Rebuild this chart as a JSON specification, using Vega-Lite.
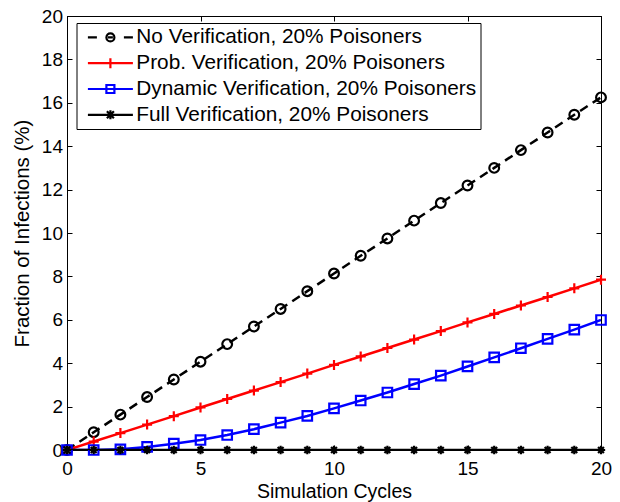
{
  "$schema": "https://vega.github.io/schema/vega-lite/v6.json",
  "width": 534,
  "height": 434,
  "autosize": {"type": "none"},
  "padding": {"left": 67, "top": 16, "right": 19, "bottom": 52},
  "background": "white",
  "config": {
    "view": {"stroke": "black", "strokeWidth": 1},
    "font": "Liberation Sans",
    "axis": {
      "grid": false,
      "domainColor": "black",
      "tickColor": "black",
      "labelColor": "black",
      "titleColor": "black",
      "labelFont": "Liberation Sans",
      "titleFont": "Liberation Sans",
      "labelFontSize": 19,
      "titleFontSize": 19.5,
      "titleFontWeight": "normal",
      "tickSize": -5,
      "labelOverlap": false,
      "labelFlush": false
    },
    "legend": {
      "labelFont": "Liberation Sans",
      "labelFontSize": 20.8,
      "labelColor": "black",
      "labelLimit": 500,
      "strokeColor": "black",
      "fillColor": "white",
      "padding": 4,
      "symbolStrokeWidth": 2.2,
      "symbolSize": 100,
      "symbolOpacity": 1,
      "rowPadding": 3.8
    }
  },
  "data": {
    "values": [
      {"series": "No Verification, 20% Poisoners", "x": 0, "y": 0},
      {"series": "No Verification, 20% Poisoners", "x": 1, "y": 0.82},
      {"series": "No Verification, 20% Poisoners", "x": 2, "y": 1.63},
      {"series": "No Verification, 20% Poisoners", "x": 3, "y": 2.44},
      {"series": "No Verification, 20% Poisoners", "x": 4, "y": 3.25},
      {"series": "No Verification, 20% Poisoners", "x": 5, "y": 4.07},
      {"series": "No Verification, 20% Poisoners", "x": 6, "y": 4.88},
      {"series": "No Verification, 20% Poisoners", "x": 7, "y": 5.69},
      {"series": "No Verification, 20% Poisoners", "x": 8, "y": 6.5},
      {"series": "No Verification, 20% Poisoners", "x": 9, "y": 7.32},
      {"series": "No Verification, 20% Poisoners", "x": 10, "y": 8.13},
      {"series": "No Verification, 20% Poisoners", "x": 11, "y": 8.95},
      {"series": "No Verification, 20% Poisoners", "x": 12, "y": 9.75},
      {"series": "No Verification, 20% Poisoners", "x": 13, "y": 10.57},
      {"series": "No Verification, 20% Poisoners", "x": 14, "y": 11.38},
      {"series": "No Verification, 20% Poisoners", "x": 15, "y": 12.19},
      {"series": "No Verification, 20% Poisoners", "x": 16, "y": 13.0},
      {"series": "No Verification, 20% Poisoners", "x": 17, "y": 13.82},
      {"series": "No Verification, 20% Poisoners", "x": 18, "y": 14.63},
      {"series": "No Verification, 20% Poisoners", "x": 19, "y": 15.45},
      {"series": "No Verification, 20% Poisoners", "x": 20, "y": 16.25},
      {"series": "Prob. Verification, 20% Poisoners", "x": 0, "y": 0},
      {"series": "Prob. Verification, 20% Poisoners", "x": 1, "y": 0.39},
      {"series": "Prob. Verification, 20% Poisoners", "x": 2, "y": 0.78},
      {"series": "Prob. Verification, 20% Poisoners", "x": 3, "y": 1.17},
      {"series": "Prob. Verification, 20% Poisoners", "x": 4, "y": 1.56},
      {"series": "Prob. Verification, 20% Poisoners", "x": 5, "y": 1.96},
      {"series": "Prob. Verification, 20% Poisoners", "x": 6, "y": 2.35},
      {"series": "Prob. Verification, 20% Poisoners", "x": 7, "y": 2.74},
      {"series": "Prob. Verification, 20% Poisoners", "x": 8, "y": 3.13},
      {"series": "Prob. Verification, 20% Poisoners", "x": 9, "y": 3.52},
      {"series": "Prob. Verification, 20% Poisoners", "x": 10, "y": 3.92},
      {"series": "Prob. Verification, 20% Poisoners", "x": 11, "y": 4.31},
      {"series": "Prob. Verification, 20% Poisoners", "x": 12, "y": 4.7},
      {"series": "Prob. Verification, 20% Poisoners", "x": 13, "y": 5.09},
      {"series": "Prob. Verification, 20% Poisoners", "x": 14, "y": 5.48},
      {"series": "Prob. Verification, 20% Poisoners", "x": 15, "y": 5.88},
      {"series": "Prob. Verification, 20% Poisoners", "x": 16, "y": 6.27},
      {"series": "Prob. Verification, 20% Poisoners", "x": 17, "y": 6.66},
      {"series": "Prob. Verification, 20% Poisoners", "x": 18, "y": 7.05},
      {"series": "Prob. Verification, 20% Poisoners", "x": 19, "y": 7.45},
      {"series": "Prob. Verification, 20% Poisoners", "x": 20, "y": 7.85},
      {"series": "Dynamic Verification, 20% Poisoners", "x": 0, "y": 0},
      {"series": "Dynamic Verification, 20% Poisoners", "x": 1, "y": 0.0},
      {"series": "Dynamic Verification, 20% Poisoners", "x": 2, "y": 0.03},
      {"series": "Dynamic Verification, 20% Poisoners", "x": 3, "y": 0.14},
      {"series": "Dynamic Verification, 20% Poisoners", "x": 4, "y": 0.29},
      {"series": "Dynamic Verification, 20% Poisoners", "x": 5, "y": 0.46},
      {"series": "Dynamic Verification, 20% Poisoners", "x": 6, "y": 0.69},
      {"series": "Dynamic Verification, 20% Poisoners", "x": 7, "y": 0.96},
      {"series": "Dynamic Verification, 20% Poisoners", "x": 8, "y": 1.26},
      {"series": "Dynamic Verification, 20% Poisoners", "x": 9, "y": 1.57},
      {"series": "Dynamic Verification, 20% Poisoners", "x": 10, "y": 1.92},
      {"series": "Dynamic Verification, 20% Poisoners", "x": 11, "y": 2.28},
      {"series": "Dynamic Verification, 20% Poisoners", "x": 12, "y": 2.65},
      {"series": "Dynamic Verification, 20% Poisoners", "x": 13, "y": 3.04},
      {"series": "Dynamic Verification, 20% Poisoners", "x": 14, "y": 3.43},
      {"series": "Dynamic Verification, 20% Poisoners", "x": 15, "y": 3.85},
      {"series": "Dynamic Verification, 20% Poisoners", "x": 16, "y": 4.27},
      {"series": "Dynamic Verification, 20% Poisoners", "x": 17, "y": 4.69},
      {"series": "Dynamic Verification, 20% Poisoners", "x": 18, "y": 5.12},
      {"series": "Dynamic Verification, 20% Poisoners", "x": 19, "y": 5.55},
      {"series": "Dynamic Verification, 20% Poisoners", "x": 20, "y": 5.99},
      {"series": "Full Verification, 20% Poisoners", "x": 0, "y": 0},
      {"series": "Full Verification, 20% Poisoners", "x": 1, "y": 0},
      {"series": "Full Verification, 20% Poisoners", "x": 2, "y": 0},
      {"series": "Full Verification, 20% Poisoners", "x": 3, "y": 0},
      {"series": "Full Verification, 20% Poisoners", "x": 4, "y": 0},
      {"series": "Full Verification, 20% Poisoners", "x": 5, "y": 0},
      {"series": "Full Verification, 20% Poisoners", "x": 6, "y": 0},
      {"series": "Full Verification, 20% Poisoners", "x": 7, "y": 0},
      {"series": "Full Verification, 20% Poisoners", "x": 8, "y": 0},
      {"series": "Full Verification, 20% Poisoners", "x": 9, "y": 0},
      {"series": "Full Verification, 20% Poisoners", "x": 10, "y": 0},
      {"series": "Full Verification, 20% Poisoners", "x": 11, "y": 0},
      {"series": "Full Verification, 20% Poisoners", "x": 12, "y": 0},
      {"series": "Full Verification, 20% Poisoners", "x": 13, "y": 0},
      {"series": "Full Verification, 20% Poisoners", "x": 14, "y": 0},
      {"series": "Full Verification, 20% Poisoners", "x": 15, "y": 0},
      {"series": "Full Verification, 20% Poisoners", "x": 16, "y": 0},
      {"series": "Full Verification, 20% Poisoners", "x": 17, "y": 0},
      {"series": "Full Verification, 20% Poisoners", "x": 18, "y": 0},
      {"series": "Full Verification, 20% Poisoners", "x": 19, "y": 0},
      {"series": "Full Verification, 20% Poisoners", "x": 20, "y": 0}
    ]
  },
  "layer": [
    {
      "transform": [{"filter": "datum.series === 'No Verification, 20% Poisoners'"}],
      "mark": {"type": "line", "strokeWidth": 2.5, "color": "#000000", "strokeDash": [9, 6], "clip": true},
      "encoding": {
        "x": {"field": "x", "type": "quantitative", "scale": {"domain": [0, 20], "nice": false},
          "axis": {"orient": "bottom", "title": "Simulation Cycles", "values": [0, 5, 10, 15, 20], "labelPadding": 14, "titlePadding": 4}},
        "y": {"field": "y", "type": "quantitative", "scale": {"domain": [0, 20], "nice": false},
          "axis": {"orient": "left", "title": "Fraction of Infections (%)", "titleFontSize": 20.5, "values": [0, 2, 4, 6, 8, 10, 12, 14, 16, 18, 20], "labelPadding": 9.5, "titlePadding": 9}}
      }
    },
    {
      "transform": [{"filter": "datum.series === 'No Verification, 20% Poisoners'"}],
      "mark": {"type": "point", "shape": "circle", "filled": false, "size": 95, "strokeWidth": 2.2, "color": "#000000", "opacity": 1},
      "encoding": {
        "x": {"field": "x", "type": "quantitative", "axis": null},
        "y": {"field": "y", "type": "quantitative", "axis": null}
      }
    },
    {
      "transform": [{"filter": "datum.series === 'Prob. Verification, 20% Poisoners'"}],
      "mark": {"type": "line", "strokeWidth": 2.5, "color": "#ff0000", "clip": true},
      "encoding": {
        "x": {"field": "x", "type": "quantitative", "axis": null},
        "y": {"field": "y", "type": "quantitative", "axis": null}
      }
    },
    {
      "transform": [{"filter": "datum.series === 'Prob. Verification, 20% Poisoners'"}],
      "mark": {"type": "point", "shape": "M-1,0H1M0,-1V1", "filled": false, "size": 100, "strokeWidth": 2.2, "color": "#ff0000", "opacity": 1},
      "encoding": {
        "x": {"field": "x", "type": "quantitative", "axis": null},
        "y": {"field": "y", "type": "quantitative", "axis": null}
      }
    },
    {
      "transform": [{"filter": "datum.series === 'Dynamic Verification, 20% Poisoners'"}],
      "mark": {"type": "line", "strokeWidth": 2.5, "color": "#0000ff", "clip": true},
      "encoding": {
        "x": {"field": "x", "type": "quantitative", "axis": null},
        "y": {"field": "y", "type": "quantitative", "axis": null}
      }
    },
    {
      "transform": [{"filter": "datum.series === 'Dynamic Verification, 20% Poisoners'"}],
      "mark": {"type": "point", "shape": "square", "filled": false, "size": 90, "strokeWidth": 2.2, "color": "#0000ff", "opacity": 1},
      "encoding": {
        "x": {"field": "x", "type": "quantitative", "axis": null},
        "y": {"field": "y", "type": "quantitative", "axis": null}
      }
    },
    {
      "transform": [{"filter": "datum.series === 'Full Verification, 20% Poisoners'"}],
      "mark": {"type": "line", "strokeWidth": 2.5, "color": "#000000", "clip": true},
      "encoding": {
        "x": {"field": "x", "type": "quantitative", "axis": null},
        "y": {"field": "y", "type": "quantitative", "axis": null}
      }
    },
    {
      "transform": [{"filter": "datum.series === 'Full Verification, 20% Poisoners'"}],
      "mark": {"type": "point", "shape": "M-1,0H1M0,-1V1M-0.7,-0.7L0.7,0.7M-0.7,0.7L0.7,-0.7", "filled": false, "size": 70, "strokeWidth": 2.2, "color": "#000000", "opacity": 1},
      "encoding": {
        "x": {"field": "x", "type": "quantitative",
          "axis": {"orient": "top", "title": null, "labels": false, "values": [0, 5, 10, 15, 20]}},
        "y": {"field": "y", "type": "quantitative",
          "axis": {"orient": "right", "title": null, "labels": false, "values": [0, 2, 4, 6, 8, 10, 12, 14, 16, 18, 20]}}
      }
    },
    {
      "mark": {"type": "point", "filled": false, "strokeWidth": 2, "opacity": 0},
      "encoding": {
        "x": {"field": "x", "type": "quantitative", "axis": null},
        "y": {"field": "y", "type": "quantitative", "axis": null},
        "color": {"field": "series", "type": "nominal",
          "scale": {"domain": ["No Verification, 20% Poisoners", "Prob. Verification, 20% Poisoners", "Dynamic Verification, 20% Poisoners", "Full Verification, 20% Poisoners"], "range": ["#000000", "#ff0000", "#0000ff", "#000000"]},
          "legend": {"title": null, "orient": "none", "legendX": 9.5, "legendY": 7, "symbolOffset": 19.5, "labelOffset": 15.5, "symbolOpacity": 1}},
        "shape": {"field": "series", "type": "nominal",
          "scale": {"domain": ["No Verification, 20% Poisoners", "Prob. Verification, 20% Poisoners", "Dynamic Verification, 20% Poisoners", "Full Verification, 20% Poisoners"],
            "range": ["M-4.5,0H-2.7M2.7,0H4.5M-0.8,0A0.8,0.8 0 1,0 0.8,0A0.8,0.8 0 1,0 -0.8,0M-0.5,0H0.5", "M-4.5,0H4.5M0,-1V1", "M-4.5,0H4.5M-0.8,-0.8H0.8V0.8H-0.8Z", "M-4.5,0H4.5M-0.7,-0.7L0.7,0.7M-0.7,0.7L0.7,-0.7M0,-0.9V0.9"]},
          "legend": {"title": null, "orient": "none", "legendX": 9.5, "legendY": 7, "symbolOffset": 19.5, "labelOffset": 15.5, "symbolOpacity": 1}}
      }
    }
  ]
}
